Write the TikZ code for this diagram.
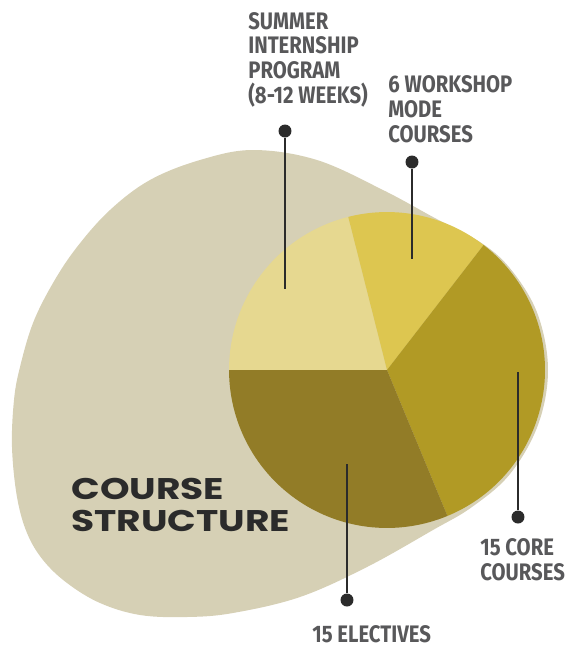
\documentclass[tikz,border=0pt]{standalone}
\usepackage{fontspec}
\setmainfont{Fira Sans}
\newfontfamily\labelfont{Fira Sans}[FakeStretch=0.85]
\newfontfamily\titlefont{Poppins}[FakeStretch=1.26]
\definecolor{blobcol}{HTML}{D6D0B5}
\definecolor{lightcol}{HTML}{E6D890}
\definecolor{wscol}{HTML}{DDC650}
\definecolor{corecol}{HTML}{B19A25}
\definecolor{elcol}{HTML}{927C27}
\definecolor{inkcol}{HTML}{2B2B2B}
\definecolor{labelcol}{HTML}{58585A}
\tikzset{
  lbl/.style = {anchor=north west, inner sep=0pt, align=left, text=labelcol,
    font=\labelfont\bfseries\fontsize{13.6}{14.2}\selectfont},
  pin/.style = {circle, fill=inkcol, inner sep=0pt, minimum size=0.26cm},
  lead/.style = {inkcol, line width=1.1pt}
}

\begin{document}
\begin{tikzpicture}[x=0.02cm, y=-0.02cm]
\useasboundingbox (0,0) rectangle (569,647);
% background blob
\fill[blobcol] plot[smooth cycle, tension=0.6] coordinates {
  (253,150) (317,160) (383,190) (433,217) (483,244) (513,272) (538,315)
  (548,370) (538,425) (510,474) (472,507) (433,530) (367,567) (300,597)
  (233,613) (187,617) (140,615) (100,603) (67,583) (43,560) (27,533)
  (17,497) (12,447) (14,400) (20,367) (33,323) (53,283) (77,247)
  (110,210) (150,180) (200,160)};
% pie
\coordinate (pc) at (387,370);
\fill[lightcol] (pc) -- ([shift={(104.2:3.16cm)}]pc) arc[start angle=104.2, end angle=180, radius=3.16cm] -- cycle;
\fill[wscol] (pc) -- ([shift={(52.3:3.16cm)}]pc) arc[start angle=52.3, end angle=104.2, radius=3.16cm] -- cycle;
\fill[corecol] (pc) -- ([shift={(-67.5:3.16cm)}]pc) arc[start angle=-67.5, end angle=52.3, radius=3.16cm] -- cycle;
\fill[elcol] (pc) -- ([shift={(180:3.16cm)}]pc) arc[start angle=180, end angle=292.5, radius=3.16cm] -- cycle;
% leaders
\node[pin] (sumdot) at (285,131) {};
\node[pin] (wsdot) at (412,162) {};
\node[pin] (coredot) at (518,517) {};
\node[pin] (eldot) at (347,600) {};
\coordinate (sumend) at (285,289);
\coordinate (wsend) at (412,259);
\coordinate (coreend) at (518,372);
\coordinate (elend) at (347,464);
\draw[lead] (sumdot) -- (sumend);
\draw[lead] (wsdot) -- (wsend);
\draw[lead] (coredot) -- (coreend);
\draw[lead] (eldot) -- (elend);
% labels
\node[lbl] (sumlbl) at (248,11.7) {SUMMER\\INTERNSHIP\\PROGRAM\\(8-12 WEEKS)};
\node[lbl] (wslbl) at (388,75) {6 WORKSHOP\\MODE\\COURSES};
\node[lbl] (corelbl) at (480,538) {15 CORE\\COURSES};
\node[lbl] (ellbl) at (312,625) {15 ELECTIVES};
\node[anchor=north west, inner sep=0pt, align=left, text=inkcol,
  font=\titlefont\bfseries\fontsize{17}{18.2}\selectfont] (title) at (71,478) {COURSE\\STRUCTURE};
\end{tikzpicture}
\end{document}
